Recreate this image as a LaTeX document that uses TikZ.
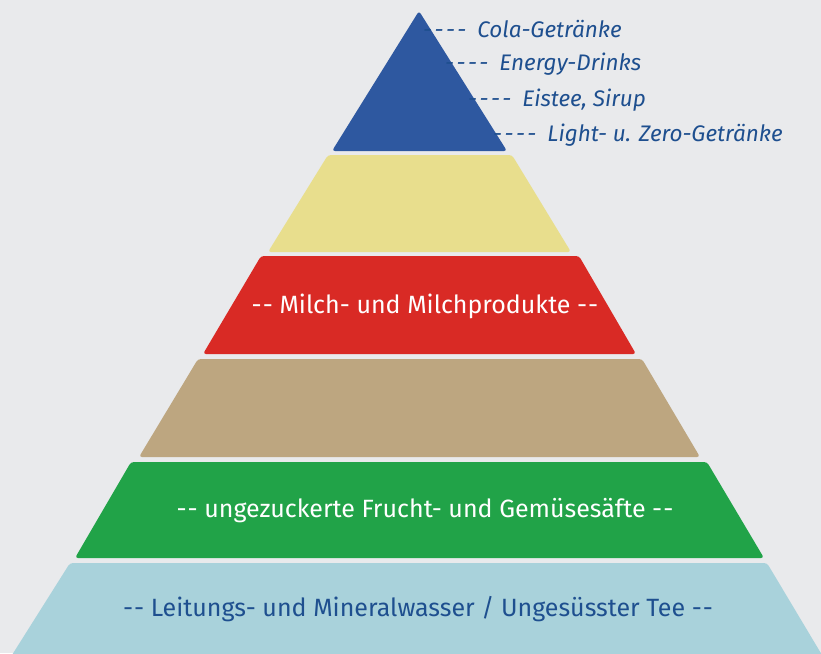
\documentclass[tikz,border=0pt]{standalone}
\usepackage{fontspec}
\setmainfont{Fira Sans}[Ligatures=NoCommon]
\definecolor{bgc}{HTML}{E9EAEC}
\definecolor{topblue}{HTML}{2E58A0}
\definecolor{yel}{HTML}{E8DE8D}
\definecolor{redc}{HTML}{D92A25}
\definecolor{tan}{HTML}{BDA680}
\definecolor{grn}{HTML}{21A348}
\definecolor{lblue}{HTML}{A9D2DB}
\definecolor{txtblue}{HTML}{1E4F8F}
\newcommand{\dd}{-{}\kern1pt-}
\newcommand{\dddd}{-{}\kern2.5pt-{}\kern2.5pt-{}\kern2.5pt-\hspace{11pt}}
\tikzset{
  layer/.style={rounded corners=3pt},
  sidelabel/.style={anchor=west, text=txtblue, font=\fontsize{22.5}{26}\selectfont\itshape, inner sep=0pt},
  bandlabel/.style={anchor=center, font=\fontsize{25}{30}\selectfont, inner sep=0pt}
}
\begin{document}
\begin{tikzpicture}[x=1pt,y=-1pt]
\fill[bgc] (0,0) rectangle (821,653);
\useasboundingbox (0,0) rectangle (821,653);
% layers
\fill[topblue,layer] (419,11) -- (507,151) -- (332,151) -- cycle;
\fill[yel,layer] (328,155) -- (512,155) -- (571,252) -- (268,252) -- cycle;
\fill[redc,layer] (261,256) -- (579,256) -- (636,354) -- (203,354) -- cycle;
\fill[tan,layer] (198,359) -- (642,359) -- (700,457) -- (139,457) -- cycle;
\fill[grn,layer] (131,462) -- (707,462) -- (764,558) -- (75,558) -- cycle;
\fill[lblue] (70,563) [rounded corners=3pt] -- (767,563) [sharp corners] -- (822,655) -- (12,655) [rounded corners=3pt] -- cycle;
% side labels
\node[sidelabel] (cola) at (423,29) {\dddd Cola-Getränke};
\node[sidelabel] (energy) at (445,64) {\dddd Energy-Drinks};
\node[sidelabel] (eistee) at (468,100) {\dddd Eistee, Sirup};
\node[sidelabel] (light) at (493,135) {\dddd Light- u. Zero-Getränke};
% band labels
\node[bandlabel, text=white] (milch) at (425,306) {\dd\ Milch- und Milchprodukte \dd};
\node[bandlabel, text=white] (saft) at (425,511) {\dd\ ungezuckerte Frucht- und Gemüsesäfte \dd};
\node[bandlabel, text=txtblue] (wasser) at (418,609) {\dd\ Leitungs- und Mineralwasser / Ungesüsster Tee \dd};
\end{tikzpicture}
\end{document}
